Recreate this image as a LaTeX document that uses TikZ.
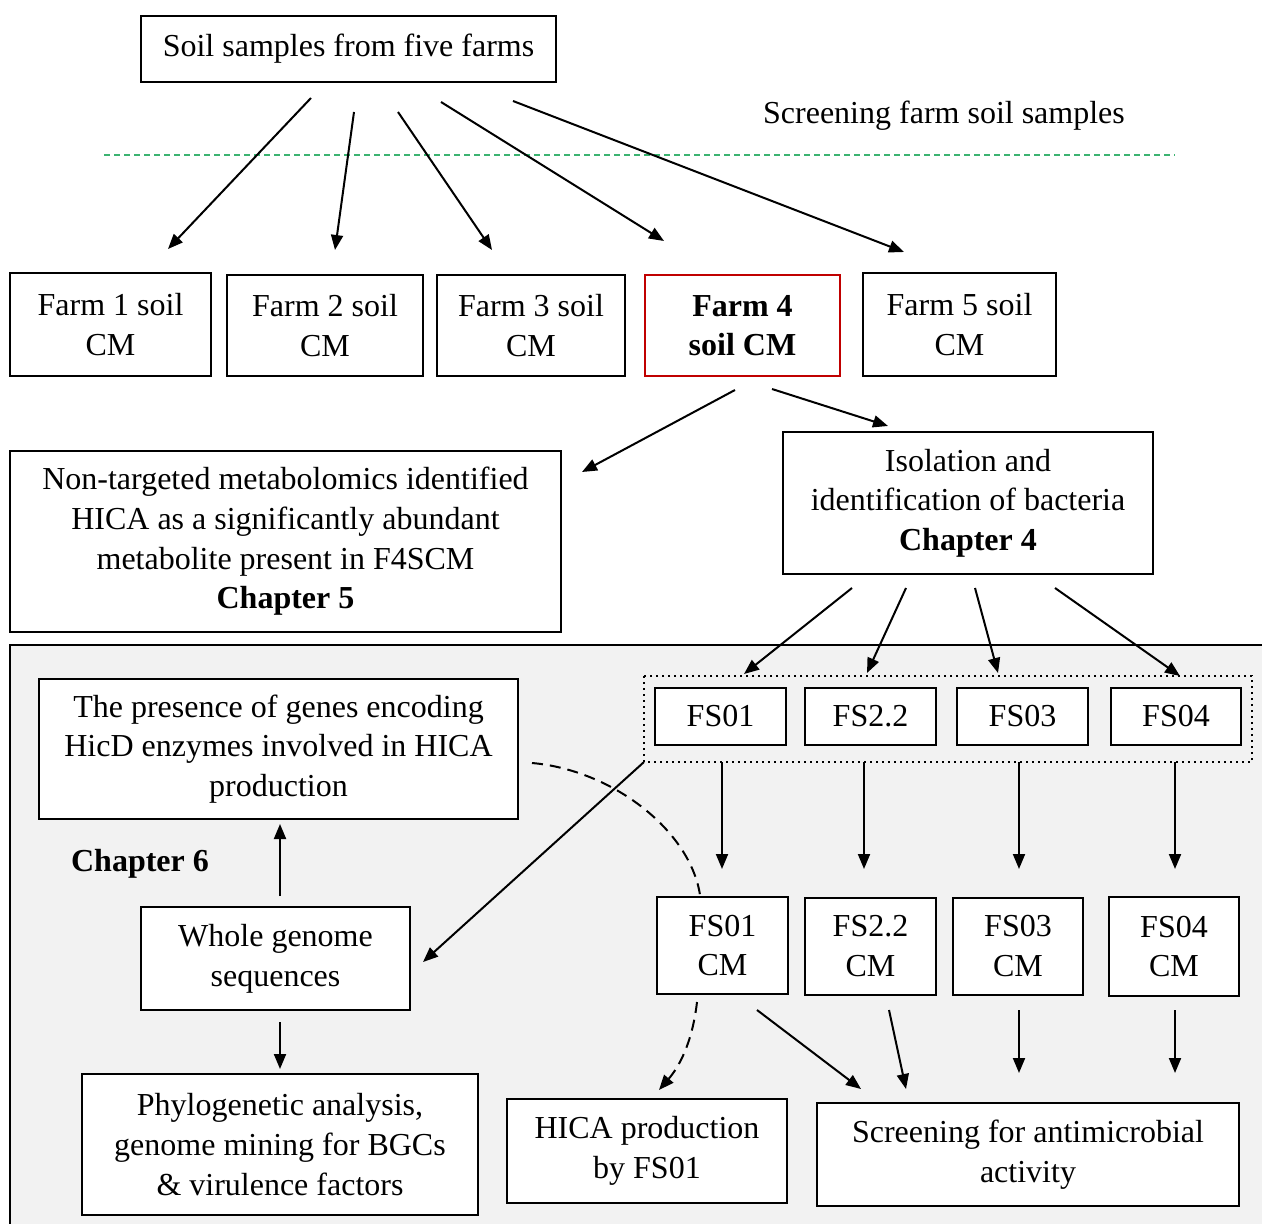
\documentclass[tikz,border=0pt]{standalone}
\usepackage{fontspec}
\setmainfont{Liberation Serif}
\usetikzlibrary{arrows.meta}
\definecolor{bggray}{HTML}{F2F2F2}
\definecolor{sepgreen}{HTML}{3CB371}
\definecolor{boxred}{HTML}{C00000}
\begin{document}
\begin{tikzpicture}[x=0.5pt,y=-0.5pt,
  box/.style={draw=black, line width=1pt, fill=white, inner sep=0pt, align=center,
    font=\fontsize{16}{19.8}\selectfont},
  plain/.style={inner sep=0pt, align=center, font=\fontsize{16}{19.8}\selectfont},
  arr/.style={line width=1pt, -{Triangle[length=7.5pt,width=6pt]}},
  darr/.style={line width=1pt, dash pattern=on 5.5pt off 3.5pt, -{Triangle[length=7.5pt,width=6pt]}},
  dline/.style={line width=1pt, dash pattern=on 5.5pt off 3.5pt}
]
\useasboundingbox (0,0) rectangle (1262,1224);
\clip (0,0) rectangle (1262,1224);
\fill[white] (0,0) rectangle (1262,1224);

% gray background panel
\draw[line width=1pt, fill=bggray] (10,645) rectangle (1280,1240);

% separator
\draw[sepgreen, line width=0.6pt, dash pattern=on 3pt off 2pt] (104,155) -- (1175,155);
\node[plain] (screenlbl) at (944,116) {Screening farm soil samples};

% top
\node[box, minimum width=207.5pt, minimum height=33pt] (top) at (348.5,49) {Soil samples from five farms};

% farms
\node[box, minimum width=100.5pt, minimum height=51.5pt] (f1) at (110.5,324.5) {Farm 1 soil\\CM};
\node[box, minimum width=98pt, minimum height=50.5pt] (f2) at (325,325.5) {Farm 2 soil\\CM};
\node[box, minimum width=94pt, minimum height=50.5pt] (f3) at (531,325.5) {Farm 3 soil\\CM};
\node[box, draw=boxred, minimum width=97.5pt, minimum height=50.5pt, font=\fontsize{16}{19.8}\selectfont\bfseries] (f4) at (742.5,325.5) {Farm 4\\soil CM};
\node[box, minimum width=96.5pt, minimum height=51.5pt] (f5) at (959.5,324.5) {Farm 5 soil\\CM};

% second level
\node[box, minimum width=275.5pt, minimum height=90.5pt] (nt) at (285.5,541.5) {Non-targeted metabolomics identified\\HICA as a significantly abundant\\metabolite present in F4SCM\\\textbf{Chapter 5}};
\node[box, minimum width=185pt, minimum height=71pt] (iso) at (968,503) {Isolation and\\identification of bacteria\\\textbf{Chapter 4}};

% chapter 6 panel
\node[box, minimum width=239.5pt, minimum height=70pt] (hicd) at (278.5,749) {The presence of genes encoding\\HicD enzymes involved in HICA\\production};
\node[plain, font=\fontsize{16}{19.8}\selectfont\bfseries] (ch6) at (140,864) {Chapter 6};
\node[box, minimum width=134.5pt, minimum height=51.5pt] (whole) at (275.5,958.5) {Whole genome\\sequences};
\node[box, minimum width=198pt, minimum height=70.5pt] (phylo) at (280,1144.5) {Phylogenetic analysis,\\genome mining for BGCs\\\& virulence factors};

% isolates
\draw[line width=1pt, dotted] (644,676) rectangle (1252,762);
\coordinate (dotc) at (644,762);
\node[box, minimum width=65.5pt, minimum height=28.5pt] (fs1) at (720.5,716.5) {FS01};
\node[box, minimum width=65.5pt, minimum height=28.5pt] (fs2) at (870.5,716.5) {FS2.2};
\node[box, minimum width=65.5pt, minimum height=28.5pt] (fs3) at (1022.5,716.5) {FS03};
\node[box, minimum width=65pt, minimum height=28.5pt] (fs4) at (1176,716.5) {FS04};

\node[box, minimum width=65.5pt, minimum height=48.5pt] (c1) at (722.5,945.5) {FS01\\CM};
\node[box, minimum width=65.5pt, minimum height=48.5pt] (c2) at (870.5,946) {FS2.2\\CM};
\node[box, minimum width=65pt, minimum height=48.5pt] (c3) at (1018,946) {FS03\\CM};
\node[box, minimum width=65pt, minimum height=49.5pt] (c4) at (1174,946.5) {FS04\\CM};

\node[box, minimum width=140pt, minimum height=52pt] (hica) at (647,1151) {HICA production\\by FS01};
\node[box, minimum width=211pt, minimum height=51.5pt] (scr) at (1028,1154.5) {Screening for antimicrobial\\activity};

% arrow endpoints
\coordinate (t1s) at (311,98);  \coordinate (t1e) at (168,249);
\coordinate (t2s) at (354,112); \coordinate (t2e) at (335,250);
\coordinate (t3s) at (398,112); \coordinate (t3e) at (492,250);
\coordinate (t4s) at (441,102); \coordinate (t4e) at (664,241);
\coordinate (t5s) at (513,101); \coordinate (t5e) at (904,252);
\coordinate (g1s) at (735,390); \coordinate (g1e) at (582,472);
\coordinate (g2s) at (772,389); \coordinate (g2e) at (888,426);
\coordinate (i1s) at (852,588); \coordinate (i1e) at (744,674);
\coordinate (i2s) at (906,588); \coordinate (i2e) at (867,673);
\coordinate (i3s) at (975,588); \coordinate (i3e) at (998,673);
\coordinate (i4s) at (1055,588); \coordinate (i4e) at (1180,676);
\coordinate (v1s) at (722,762); \coordinate (v1e) at (722,869);
\coordinate (v2s) at (864,762); \coordinate (v2e) at (864,869);
\coordinate (v3s) at (1019,762); \coordinate (v3e) at (1019,869);
\coordinate (v4s) at (1175,762); \coordinate (v4e) at (1175,869);
\coordinate (we) at (423,962);
\coordinate (u1s) at (280,896); \coordinate (u1e) at (280,824);
\coordinate (d1s) at (280,1022); \coordinate (d1e) at (280,1069);
\coordinate (cs) at (532,763); \coordinate (ce) at (700,895);
\coordinate (hs) at (697,1002); \coordinate (he) at (659,1090);
\coordinate (s1s) at (757,1010); \coordinate (s1e) at (861,1089);
\coordinate (s2s) at (889,1010); \coordinate (s2e) at (906,1089);
\coordinate (s3s) at (1019,1010); \coordinate (s3e) at (1019,1073);
\coordinate (s4s) at (1175,1010); \coordinate (s4e) at (1175,1073);

\draw[arr] (t1s) -- (t1e);
\draw[arr] (t2s) -- (t2e);
\draw[arr] (t3s) -- (t3e);
\draw[arr] (t4s) -- (t4e);
\draw[arr] (t5s) -- (t5e);
\draw[arr] (g1s) -- (g1e);
\draw[arr] (g2s) -- (g2e);
\draw[arr] (i1s) -- (i1e);
\draw[arr] (i2s) -- (i2e);
\draw[arr] (i3s) -- (i3e);
\draw[arr] (i4s) -- (i4e);
\draw[arr] (v1s) -- (v1e);
\draw[arr] (v2s) -- (v2e);
\draw[arr] (v3s) -- (v3e);
\draw[arr] (v4s) -- (v4e);
\draw[arr] (dotc) -- (we);
\draw[arr] (u1s) -- (u1e);
\draw[arr] (d1s) -- (d1e);
\draw[dline] (cs) .. controls (612,770) and (690,830) .. (ce);
\draw[darr] (hs) .. controls (692,1045) and (678,1068) .. (he);
\draw[arr] (s1s) -- (s1e);
\draw[arr] (s2s) -- (s2e);
\draw[arr] (s3s) -- (s3e);
\draw[arr] (s4s) -- (s4e);
\end{tikzpicture}
\end{document}
